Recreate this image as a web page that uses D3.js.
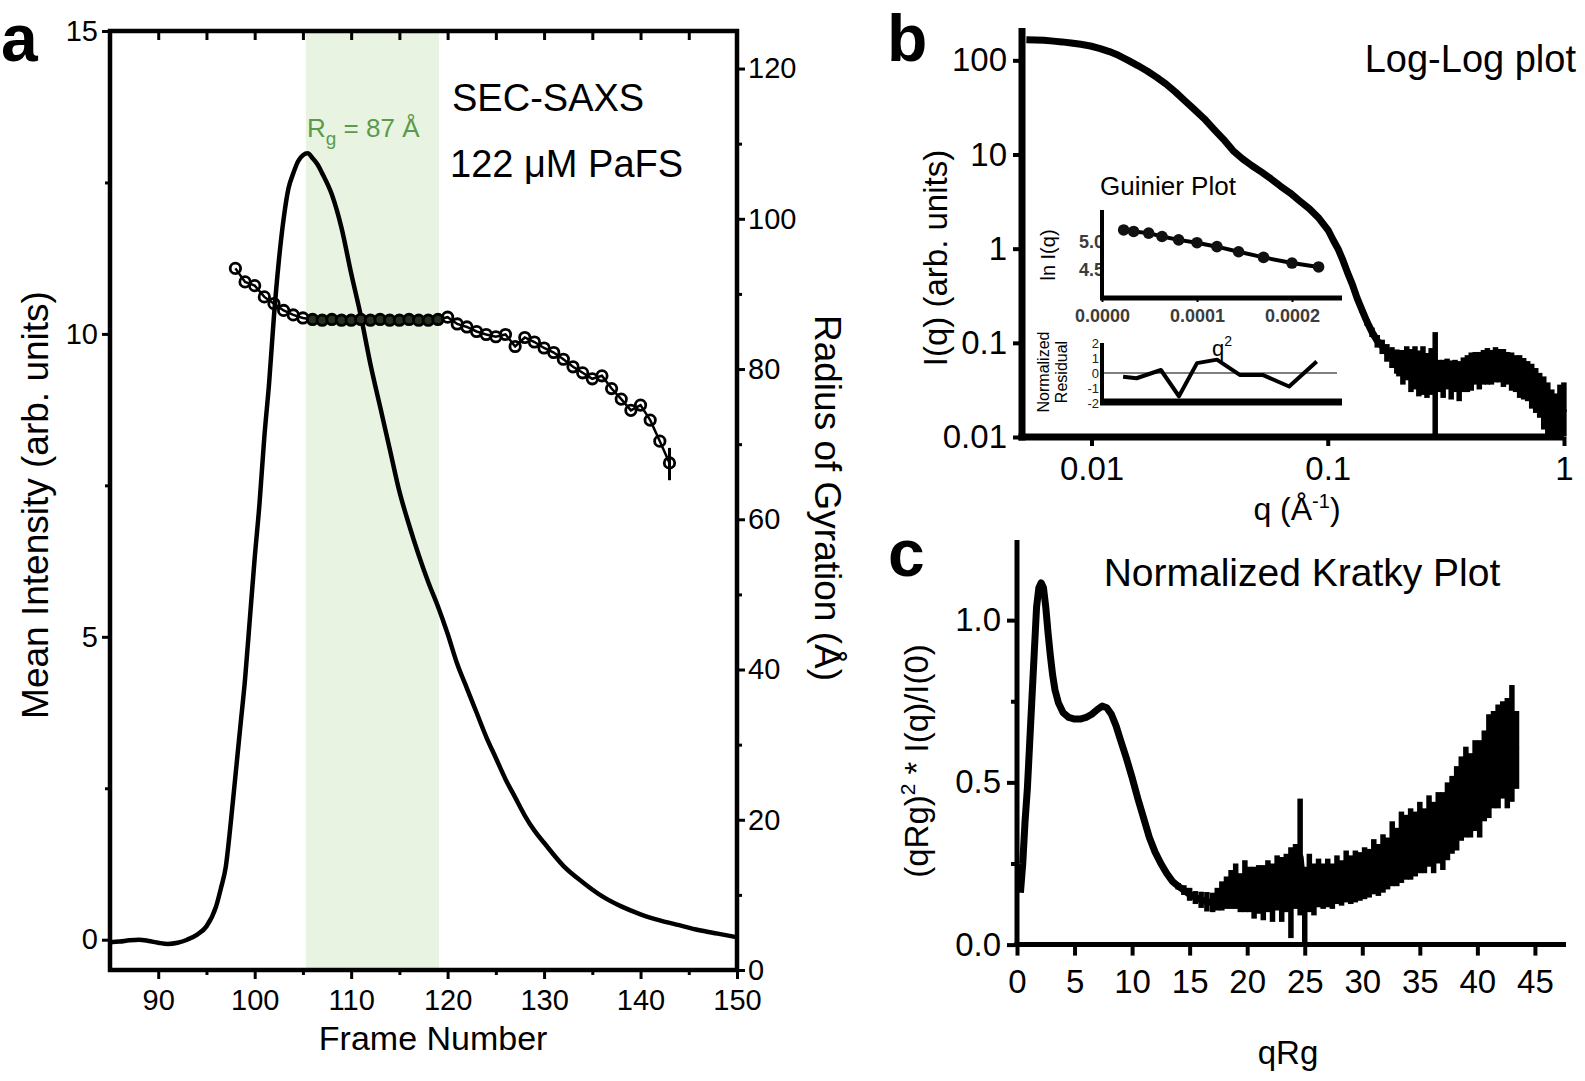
<!DOCTYPE html>
<html><head><meta charset="utf-8">
<script src="https://cdn.jsdelivr.net/npm/d3@7"></script>
<style>body{margin:0;background:#fff}svg{display:block}</style>
</head><body>
<script>
// ================= DATA =================
// Panel a: SEC-SAXS elution profile
const frames = [85,86,87,88,89,90,91,92,93,94,95,96,
  96.5,97,97.5,98,98.5,99,99.5,100,100.5,101,101.5,102,102.5,103,103.5,104,104.5,105,105.5,106,106.5,107,
  108,109,110,111,112,113,114,115,116,117,118,119,120,121,122,123,124,125,126,127,128,129,130,
  132,134,136,138,140,142,144,146,148,150];
const meanIntensity = [-0.04,-0.03,-0.01,0.0,-0.02,-0.05,-0.07,-0.05,0.0,0.08,0.22,0.55,
  0.85,1.2,1.9,2.7,3.5,4.3,5.3,6.3,7.2,8.3,9.2,10.3,11.2,11.9,12.4,12.65,12.85,12.95,12.98,12.9,12.8,12.65,
  12.3,11.75,11.0,10.3,9.5,8.8,8.1,7.4,6.85,6.35,5.9,5.5,5.05,4.55,4.15,3.75,3.35,3.0,2.65,2.35,2.05,1.8,1.6,
  1.22,0.95,0.72,0.55,0.42,0.32,0.24,0.16,0.1,0.04];
const rgFrames = [98,99,100,101,102,103,104,105,106,107,108,109,110,111,112,113,114,115,116,117,118,119,120,
  121,122,123,124,125,126,127,128,129,130,131,132,133,134,135,136,137,138,139,140,141,142,143];
const rgValues = [93.4,91.6,91.1,89.6,88.7,87.8,87.2,86.8,86.6,86.5,86.6,86.5,86.5,86.6,86.5,86.6,86.5,86.5,86.6,86.5,86.5,86.6,86.9,
  86.0,85.6,85.0,84.6,84.3,84.6,83.0,84.2,83.6,82.8,82.2,81.3,80.3,79.5,78.7,79.1,77.4,76.0,74.5,75.2,73.2,70.4,67.5];
const selectedFrames = [105.3, 119.1];
const aXTicks = [90,100,110,120,130,140,150];
const aXMinor = [95,105,115,125,135,145];
const aYTicks = [0,5,10,15];
const aYMinor = [2.5,7.5,12.5];
const aY2Ticks = [0,20,40,60,80,100,120];
const aY2Minor = [10,30,50,70,90,110];

// Panel b: log-log scattering profile
const qLog = [0.0053,0.0058,0.0063,0.0069,0.0075,0.0082,0.009,0.0099,0.0108,0.0119,0.013,0.0143,0.0157,0.0172,0.0189,
  0.0207,0.0227,0.0249,0.0273,0.03,0.033,0.0362,0.0397,0.0436,0.0478,0.0525,0.0576,0.0632,0.0694,0.0762,0.0836,0.0918,
  0.1007,0.1057,0.1105,0.116,0.1215,0.127,0.133,0.14,0.147,0.154,0.162,0.17,0.178,0.187,0.196,
  0.200,0.208,0.216,0.225,0.234,0.243,0.253,0.263,0.274,0.285,0.296,0.308,0.320,0.333,0.346,0.360,0.375,0.390,0.405,
  0.421,0.438,0.456,0.474,0.493,0.513,0.533,0.554,0.577,0.600,0.624,0.649,0.675,0.702,0.730,0.759,0.789,0.821,0.854,
  0.888,0.924,0.961,0.999];
const iLog = [165,164,163,160,157,153,148,142,134,124,113,100,88,77,66,
  56,46,37,30,24,18.5,14.5,11.0,9.0,7.6,6.5,5.5,4.6,3.9,3.2,2.65,2.1,
  1.55,1.22,1.0,0.75,0.55,0.42,0.3,0.22,0.165,0.13,0.105,0.092,0.08,0.072,0.066,
  0.064,0.060,0.066,0.058,0.062,0.055,0.060,0.052,0.058,0.060,0.048,0.046,0.050,0.045,0.048,0.044,0.050,0.052,0.055,
  0.058,0.056,0.060,0.062,0.060,0.064,0.062,0.060,0.058,0.055,0.052,0.050,0.047,0.044,0.040,0.036,0.032,0.028,0.024,
  0.020,0.017,0.016,0.020];
const iLogErr = [0,0,0,0,0,0,0,0,0,0,0,0,0,0,0,
  0,0,0,0,0,0,0,0,0,0,0,0,0,0,0,0,0,
  0,0,0,0,0,0,0.01,0.012,0.014,0.015,0.016,0.016,0.017,0.018,0.019,
  0.020,0.024,0.026,0.028,0.030,0.028,0.032,0.026,0.030,0.070,0.018,0.020,0.018,0.020,0.018,0.020,0.020,0.022,0.024,
  0.022,0.024,0.024,0.026,0.024,0.026,0.024,0.026,0.022,0.024,0.022,0.024,0.022,0.020,0.020,0.018,0.016,0.016,0.014,
  0.012,0.012,0.020,0.018];
const bXTicks = [0.01,0.1,1];
const bYTicks = [0.01,0.1,1,10,100];
const bXLabels = ["0.01","0.1","1"];
const bYLabels = ["0.01","0.1","1","10","100"];

// Panel b inset: Guinier plot
const guinierQ2 = [0.0000228,0.0000333,0.0000491,0.0000632,0.0000807,0.0001,0.000121,0.0001438,0.000170,0.0002,0.000228];
const guinierLnI = [5.206,5.18,5.15,5.09,5.03,4.98,4.91,4.82,4.72,4.62,4.55];
const gXTicks = [0,0.0001,0.0002];
const gXLabels = ["0.0000","0.0001","0.0002"];
const gYTicks = [4.5,5.0];
const residQ2 = [0.0000222,0.0000364,0.000062,0.000081,0.0001,0.000121,0.000145,0.000169,0.000197,0.000226];
const residVal = [-0.25,-0.35,0.2,-1.55,0.66,0.89,-0.13,-0.13,-0.9,0.77];
const rYTicks = [-2,-1,0,1,2];

// Panel c: normalized Kratky plot
const kratkyQRg = [0.3,0.5,0.7,0.9,1.1,1.3,1.5,1.7,1.9,2.1,2.3,2.5,2.7,2.9,3.1,3.3,3.6,4.0,4.5,5.0,5.5,6.0,6.5,7.0,7.4,7.8,
  8.2,8.6,9.0,9.5,10.0,10.5,11.0,11.5,12.0,12.5,13.0,13.5,14.0,14.5,15.0,15.5,16.0,16.5,17.0,
  17.4,17.8,18.2,18.6,19.0,19.4,19.8,20.2,20.6,21.0,21.4,21.8,22.2,22.6,23.0,23.4,23.8,24.2,24.6,25.0,25.4,25.8,
  26.2,26.6,27.0,27.4,27.8,28.2,28.6,29.0,29.4,29.8,30.2,30.6,31.0,31.4,31.8,32.2,32.6,33.0,33.4,33.8,34.2,34.6,
  35.0,35.4,35.8,36.2,36.6,37.0,37.4,37.8,38.2,38.6,39.0,39.4,39.8,40.2,40.6,41.0,41.4,41.8,42.2,42.6,43.0,43.4];
const kratkyVal = [0.16,0.25,0.38,0.48,0.62,0.76,0.9,1.04,1.10,1.115,1.10,1.04,0.96,0.89,0.83,0.785,0.745,0.715,0.70,0.695,0.695,0.70,0.71,0.725,0.735,0.73,
  0.71,0.675,0.63,0.575,0.515,0.45,0.39,0.33,0.285,0.25,0.22,0.195,0.18,0.168,0.155,0.145,0.138,0.132,0.13,
  0.14,0.15,0.16,0.17,0.18,0.16,0.18,0.17,0.16,0.17,0.16,0.18,0.16,0.19,0.17,0.19,0.16,0.21,0.27,0.12,0.19,0.17,
  0.19,0.18,0.19,0.18,0.20,0.19,0.21,0.20,0.21,0.21,0.22,0.22,0.24,0.23,0.25,0.25,0.28,0.27,0.30,0.30,0.31,0.31,
  0.33,0.32,0.35,0.33,0.36,0.35,0.38,0.40,0.42,0.45,0.47,0.46,0.49,0.48,0.52,0.55,0.57,0.58,0.60,0.59,0.62,0.60];
const kratkyErr = [0,0,0,0,0,0,0,0,0,0,0,0,0,0,0,0,0,0,0,0,0,0,0,0,0,0,
  0,0,0,0,0,0,0,0,0,0,0,0,0.01,0.015,0.02,0.02,0.025,0.03,0.03,
  0.035,0.045,0.05,0.06,0.07,0.06,0.08,0.07,0.08,0.075,0.085,0.08,0.09,0.085,0.1,0.09,0.14,0.1,0.18,0.12,0.09,0.08,
  0.075,0.07,0.075,0.07,0.075,0.07,0.08,0.075,0.08,0.075,0.08,0.075,0.085,0.08,0.09,0.08,0.1,0.09,0.11,0.1,0.11,0.1,
  0.11,0.1,0.11,0.11,0.11,0.12,0.12,0.12,0.13,0.13,0.14,0.13,0.14,0.15,0.14,0.16,0.15,0.16,0.15,0.17,0.18,0.12];
const cXTicks = [0,5,10,15,20,25,30,35,40,45];
const cYTicks = [0,0.5,1.0];
const cYMinor = [0.25,0.75];

// ================= DRAWING =================
const FONT = '"Liberation Sans", Arial, Helvetica, sans-serif';
const svg = d3.select("body").append("svg").attr("width",1585).attr("height",1081)
  .style("font-family",FONT);
svg.append("rect").attr("width",1585).attr("height",1081).attr("fill","#fff");

function styleAxis(g, sw, fs, color){
  g.select(".domain").remove();
  g.selectAll(".tick line").attr("stroke","#000").attr("stroke-width",sw);
  g.selectAll(".tick text").attr("font-size",fs).attr("fill",color||"#000").style("font-family",FONT);
}

// ---------- Panel a ----------
const A = {l:110, r:737, t:31, b:970};
const xA = d3.scaleLinear().domain([85,150]).range([A.l,A.r]);
const yA = d3.scaleLinear().domain([-0.5,15]).range([A.b,A.t]);
const yA2 = d3.scaleLinear().domain([0,125]).range([A.b,A.t]);
const gA = svg.append("g");

gA.append("rect").attr("x",xA(selectedFrames[0])).attr("y",A.t)
  .attr("width",xA(selectedFrames[1])-xA(selectedFrames[0])).attr("height",A.b-A.t)
  .attr("fill","#e8f3e2");

gA.append("path")
  .datum(frames.map((f,i)=>[f,meanIntensity[i]]))
  .attr("d", d3.line().x(d=>xA(d[0])).y(d=>yA(d[1])).curve(d3.curveMonotoneX))
  .attr("fill","none").attr("stroke","#000").attr("stroke-width",4.5).attr("stroke-linejoin","round");

const rgPts = rgFrames.map((f,i)=>[f,rgValues[i]]);
gA.append("path").datum(rgPts)
  .attr("d", d3.line().x(d=>xA(d[0])).y(d=>yA2(d[1])))
  .attr("fill","none").attr("stroke","#000").attr("stroke-width",2.5);
gA.append("line").attr("x1",xA(143)).attr("x2",xA(143)).attr("y1",yA2(69.5)).attr("y2",yA2(65.2))
  .attr("stroke","#000").attr("stroke-width",3);
gA.selectAll("circle.rg").data(rgPts).join("circle").attr("class","rg")
  .attr("cx",d=>xA(d[0])).attr("cy",d=>yA2(d[1])).attr("r",5.2)
  .attr("fill",d=>(d[0]>=selectedFrames[0] && d[0]<=selectedFrames[1]) ? "#26301f" : "none")
  .attr("stroke","#000").attr("stroke-width",2.8);

// axes a
let ax;
ax = gA.append("g").attr("transform",`translate(0,${A.b})`)
  .call(d3.axisBottom(xA).tickValues(aXTicks).tickSize(9).tickPadding(10));
styleAxis(ax,3,29);
ax = gA.append("g").attr("transform",`translate(0,${A.b})`)
  .call(d3.axisBottom(xA).tickValues(aXMinor).tickSize(5).tickFormat(""));
styleAxis(ax,3,0);
ax = gA.append("g").attr("transform",`translate(0,${A.t})`)
  .call(d3.axisTop(xA).tickValues(aXTicks.concat(aXMinor)).tickSize(-9).tickFormat(""));
styleAxis(ax,3,0);
ax = gA.append("g").attr("transform",`translate(${A.l},0)`)
  .call(d3.axisLeft(yA).tickValues(aYTicks).tickSize(8).tickPadding(4));
styleAxis(ax,3,29);
ax = gA.append("g").attr("transform",`translate(${A.l},0)`)
  .call(d3.axisLeft(yA).tickValues(aYMinor).tickSize(5).tickFormat(""));
styleAxis(ax,3,0);
ax = gA.append("g").attr("transform",`translate(${A.r},0)`)
  .call(d3.axisRight(yA2).tickValues(aY2Ticks).tickSize(8).tickPadding(3));
styleAxis(ax,3,29);
ax = gA.append("g").attr("transform",`translate(${A.r},0)`)
  .call(d3.axisRight(yA2).tickValues(aY2Minor).tickSize(5).tickFormat(""));
styleAxis(ax,3,0);
gA.append("rect").attr("x",A.l).attr("y",A.t).attr("width",A.r-A.l).attr("height",A.b-A.t)
  .attr("fill","none").attr("stroke","#000").attr("stroke-width",4.5);

gA.append("text").attr("x",1).attr("y",61).attr("font-size",66).attr("font-weight","bold").text("a");
gA.append("text").attr("transform","translate(48,505) rotate(-90)").attr("text-anchor","middle")
  .attr("font-size",37).text("Mean Intensity (arb. units)");
gA.append("text").attr("transform","translate(815,498) rotate(90)").attr("text-anchor","middle")
  .attr("font-size",37).text("Radius of Gyration (Å)");
gA.append("text").attr("x",xA(118.5)).attr("y",1050).attr("text-anchor","middle")
  .attr("font-size",34).text("Frame Number");
gA.append("text").attr("x",452).attr("y",111).attr("font-size",38).text("SEC-SAXS");
gA.append("text").attr("x",450).attr("y",177).attr("font-size",38).text("122 μM PaFS");
const rgT = gA.append("text").attr("x",307).attr("y",137).attr("font-size",26).attr("fill","#5b9a4a");
rgT.append("tspan").text("R");
rgT.append("tspan").attr("font-size",19).attr("dy",8).text("g");
rgT.append("tspan").attr("dy",-8).text(" = 87 Å");

// ---------- Panel b ----------
const B = {l:1022, r:1564, t:30, b:437};
const xB = d3.scaleLog().domain([0.00508,1]).range([B.l,B.r]);
const yB = d3.scaleLog().domain([0.01,210]).range([B.b,B.t]);
const gB = svg.append("g");
svg.append("clipPath").attr("id","clipB").append("rect")
  .attr("x",B.l).attr("y",B.t-5).attr("width",B.r-B.l+4).attr("height",B.b-B.t+5);
const bPts = qLog.map((q,i)=>({q, I:iLog[i], e:iLogErr[i]}));
const gBd = gB.append("g").attr("clip-path","url(#clipB)");
gBd.selectAll("line.eb").data(bPts.filter(d=>d.e>0)).join("line").attr("class","eb")
  .attr("x1",d=>xB(d.q)).attr("x2",d=>xB(d.q))
  .attr("y1",d=>yB(Math.max(d.I-d.e,0.0101))).attr("y2",d=>yB(d.I+d.e))
  .attr("stroke","#000").attr("stroke-width",5.5);
gBd.append("path").datum(bPts)
  .attr("d", d3.line().x(d=>xB(d.q)).y(d=>yB(d.I)))
  .attr("fill","none").attr("stroke","#000").attr("stroke-width",7).attr("stroke-linejoin","round");

ax = gB.append("g").attr("transform",`translate(0,${B.b})`)
  .call(d3.axisBottom(xB).tickValues(bXTicks).tickFormat((d,i)=>bXLabels[i]).tickSize(9).tickPadding(11));
styleAxis(ax,4,33);
ax = gB.append("g").attr("transform",`translate(${B.l},0)`)
  .call(d3.axisLeft(yB).tickValues(bYTicks).tickFormat((d,i)=>bYLabels[i]).tickSize(9).tickPadding(6));
styleAxis(ax,4,33);
gB.append("line").attr("x1",B.l).attr("x2",B.l).attr("y1",B.t-2).attr("y2",B.b+3.5).attr("stroke","#000").attr("stroke-width",7);
gB.append("line").attr("x1",B.l-3.5).attr("x2",B.r).attr("y1",B.b).attr("y2",B.b).attr("stroke","#000").attr("stroke-width",7);

gB.append("text").attr("x",887).attr("y",61).attr("font-size",66).attr("font-weight","bold").text("b");
gB.append("text").attr("transform","translate(947,258) rotate(-90)").attr("text-anchor","middle")
  .attr("font-size",33).text("I(q) (arb. units)");
const qT = gB.append("text").attr("x",1297).attr("y",520).attr("text-anchor","middle").attr("font-size",32);
qT.append("tspan").text("q (Å");
qT.append("tspan").attr("font-size",20).attr("dy",-12).text("-1");
qT.append("tspan").attr("dy",12).text(")");
gB.append("text").attr("x",1576).attr("y",72).attr("text-anchor","end").attr("font-size",38).text("Log-Log plot");

// Guinier inset
const G = {l:1102, r:1342, t:210, b:298};
const xG = d3.scaleLinear().domain([0,0.00025]).range([G.l,1339.5]);
const yG = d3.scaleLinear().domain([4.0,5.56]).range([G.b,G.t]);
gB.append("text").attr("x",1168).attr("y",195).attr("text-anchor","middle").attr("font-size",26).text("Guinier Plot");
ax = gB.append("g").attr("transform",`translate(0,${G.b})`)
  .call(d3.axisBottom(xG).tickValues(gXTicks).tickFormat((d,i)=>gXLabels[i]).tickSize(4).tickPadding(7));
styleAxis(ax,2,18,"#3c3c3c");
ax.selectAll(".tick text").attr("font-weight","bold");
ax = gB.append("g").attr("transform",`translate(${G.l},0)`)
  .call(d3.axisLeft(yG).tickValues(gYTicks).tickFormat(d3.format(".1f")).tickSize(0).tickPadding(-2));
styleAxis(ax,2,18,"#3c3c3c");
ax.selectAll(".tick text").attr("font-weight","bold");
const gPts = guinierQ2.map((q,i)=>[q,guinierLnI[i]]);
gB.append("path").datum(gPts).attr("d",d3.line().x(d=>xG(d[0])).y(d=>yG(d[1])))
  .attr("fill","none").attr("stroke","#000").attr("stroke-width",4);
gB.selectAll("circle.g").data(gPts).join("circle").attr("class","g")
  .attr("cx",d=>xG(d[0])).attr("cy",d=>yG(d[1])).attr("r",5.8).attr("fill","#111");
gB.append("line").attr("x1",G.l).attr("x2",G.l).attr("y1",G.t).attr("y2",G.b+2).attr("stroke","#000").attr("stroke-width",4);
gB.append("line").attr("x1",G.l-2).attr("x2",G.r).attr("y1",G.b).attr("y2",G.b).attr("stroke","#000").attr("stroke-width",5);
gB.append("text").attr("transform","translate(1055,255) rotate(-90)").attr("text-anchor","middle")
  .attr("font-size",20).text("ln I(q)");

// residual inset
const yR = d3.scaleLinear().domain([-2,2]).range([403,343]);
ax = gB.append("g").attr("transform",`translate(${G.l},0)`)
  .call(d3.axisLeft(yR).tickValues(rYTicks).tickFormat(d=>String(d)).tickSize(0).tickPadding(3));
styleAxis(ax,2,13,"#222");
gB.append("line").attr("x1",G.l).attr("x2",1337).attr("y1",yR(0)).attr("y2",yR(0)).attr("stroke","#000").attr("stroke-width",1);
gB.append("path").datum(residQ2.map((q,i)=>[q,residVal[i]]))
  .attr("d",d3.line().x(d=>xG(d[0])).y(d=>yR(d[1])))
  .attr("fill","none").attr("stroke","#000").attr("stroke-width",4).attr("stroke-linejoin","round");
gB.append("line").attr("x1",G.l).attr("x2",G.l).attr("y1",343).attr("y2",405).attr("stroke","#000").attr("stroke-width",4);
gB.append("line").attr("x1",G.l-2).attr("x2",G.r).attr("y1",402).attr("y2",402).attr("stroke","#000").attr("stroke-width",7);
const q2T = gB.append("text").attr("x",1212).attr("y",356).attr("font-size",22);
q2T.append("tspan").text("q");
q2T.append("tspan").attr("font-size",14).attr("dy",-10).text("2");
gB.append("text").attr("transform","translate(1049,372) rotate(-90)").attr("text-anchor","middle")
  .attr("font-size",16).text("Normalized");
gB.append("text").attr("transform","translate(1067,372) rotate(-90)").attr("text-anchor","middle")
  .attr("font-size",16).text("Residual");

// ---------- Panel c ----------
const C = {l:1017, r:1566, t:540, b:944.6};
const xC = d3.scaleLinear().domain([0,47.7]).range([C.l,C.r]);
const yC = d3.scaleLinear().domain([0,1.247]).range([C.b,C.t]);
const gC = svg.append("g");
const kPts = kratkyQRg.map((x,i)=>({x, v:kratkyVal[i], e:kratkyErr[i]}));
gC.selectAll("line.eb").data(kPts.filter(d=>d.e>0)).join("line").attr("class","eb")
  .attr("x1",d=>xC(d.x)).attr("x2",d=>xC(d.x))
  .attr("y1",d=>yC(Math.max(d.v-d.e,0))).attr("y2",d=>yC(d.v+d.e))
  .attr("stroke","#000").attr("stroke-width",5.5);
gC.append("path").datum(kPts)
  .attr("d", d3.line().x(d=>xC(d.x)).y(d=>yC(d.v)))
  .attr("fill","none").attr("stroke","#000").attr("stroke-width",7).attr("stroke-linejoin","round");

ax = gC.append("g").attr("transform",`translate(0,${C.b})`)
  .call(d3.axisBottom(xC).tickValues(cXTicks).tickSize(11).tickPadding(14));
styleAxis(ax,4,33);
ax = gC.append("g").attr("transform",`translate(${C.l},0)`)
  .call(d3.axisLeft(yC).tickValues(cYTicks).tickFormat(d3.format(".1f")).tickSize(10).tickPadding(6));
styleAxis(ax,4,33);
ax = gC.append("g").attr("transform",`translate(${C.l},0)`)
  .call(d3.axisLeft(yC).tickValues(cYMinor).tickSize(6).tickFormat(""));
styleAxis(ax,4,0);
gC.append("line").attr("x1",C.l).attr("x2",C.l).attr("y1",C.t).attr("y2",C.b+2.5).attr("stroke","#000").attr("stroke-width",5);
gC.append("line").attr("x1",C.l-2.5).attr("x2",C.r).attr("y1",C.b).attr("y2",C.b).attr("stroke","#000").attr("stroke-width",5);

gC.append("text").attr("x",888).attr("y",576).attr("font-size",66).attr("font-weight","bold").text("c");
gC.append("text").attr("x",1302).attr("y",586).attr("text-anchor","middle").attr("font-size",39).text("Normalized Kratky Plot");
gC.append("text").attr("x",1288).attr("y",1064).attr("text-anchor","middle").attr("font-size",33).text("qRg");
const kyT = gC.append("text").attr("transform","translate(928,761) rotate(-90)").attr("text-anchor","middle").attr("font-size",33);
kyT.append("tspan").text("(qRg)");
kyT.append("tspan").attr("font-size",21).attr("dy",-13).text("2");
kyT.append("tspan").attr("dy",13).text(" * I(q)/I(0)");
</script>
</body></html>
